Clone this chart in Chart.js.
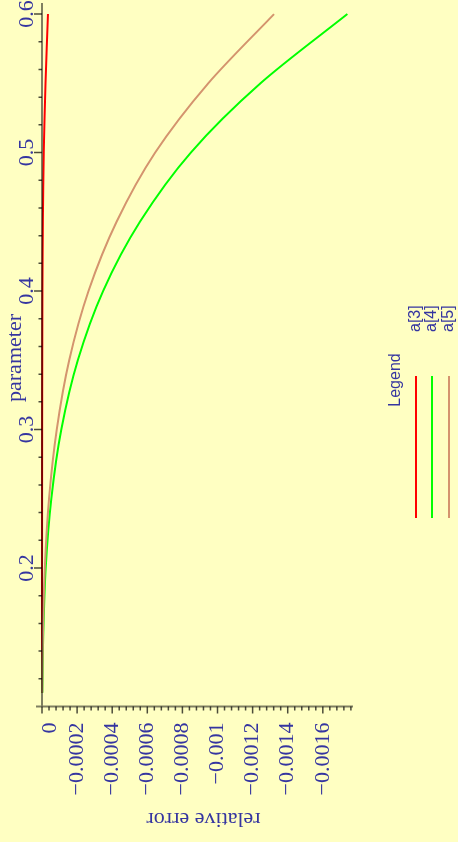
<!DOCTYPE html>
<html>
<head>
<meta charset="utf-8">
<script src="https://cdn.jsdelivr.net/npm/chart.js@4/dist/chart.umd.min.js"></script>
<style>
  html, body { margin: 0; padding: 0; background: #FFFFC2; }
  canvas { display: block; }
</style>
</head>
<body>
<canvas id="errChart" width="458" height="842"></canvas>
<script>
// data
const params = [0.11, 0.15, 0.2, 0.25, 0.3, 0.35, 0.4, 0.45, 0.5, 0.55, 0.6];
const a3 = [0, 0, -0.0000002, -0.0000005, -0.0000008, -0.0000015, -0.0000025, -0.000005, -0.000010, -0.000020, -0.000034];
const a4 = [-0.0000019, -0.0000068, -0.000021, -0.000053, -0.000110, -0.000204, -0.000348, -0.000558, -0.000848, -0.001245, -0.001740];
const a5 = [-0.0000015, -0.0000052, -0.000016, -0.000040, -0.000084, -0.000155, -0.000265, -0.000425, -0.000645, -0.000947, -0.001322];

const seriesNames = ['a[3]', 'a[4]', 'a[5]'];
const seriesColors = ['#FF0000', '#00FF00', '#D4946E'];

const errTicks = [0, -0.0002, -0.0004, -0.0006, -0.0008, -0.001, -0.0012, -0.0014, -0.0016];
const errTickLabels = ['0', '\u22120.0002', '\u22120.0004', '\u22120.0006', '\u22120.0008', '\u22120.001', '\u22120.0012', '\u22120.0014', '\u22120.0016'];
const paramTicks = [0.2, 0.3, 0.4, 0.5, 0.6];
const paramTickLabels = ['0.2', '0.3', '0.4', '0.5', '0.6'];

const textColor = '#3535A0';
const serif = '"Liberation Serif", "DejaVu Serif", serif';
const sans = '"Liberation Sans", Arial, sans-serif';

function toPoints(vals) {
    return params.map(function(p, i) { return { x: vals[i], y: p }; });
}

function rotText(ctx, str, x, y, angle, font, align, baseline) {
    ctx.save();
    ctx.translate(x, y);
    ctx.rotate(angle);
    ctx.font = font;
    ctx.fillStyle = textColor;
    ctx.textAlign = align;
    ctx.textBaseline = baseline;
    ctx.fillText(str, 0, 0);
    ctx.restore();
}

const bgPlugin = {
    id: 'bg',
    beforeDraw: function(chart) {
        const ctx = chart.ctx;
        ctx.save();
        ctx.fillStyle = '#FFFFC2';
        ctx.fillRect(0, 0, chart.width, chart.height);
        ctx.restore();
    }
};

// maple-style axes crossing at (0, 0.1), drawn over the curves
const axesPlugin = {
    id: 'mapleAxes',
    afterDatasetsDraw: function(chart) {
        const ctx = chart.ctx;
        const xs = chart.scales.x, ys = chart.scales.y;
        const area = chart.chartArea;
        const x0 = xs.getPixelForValue(0);
        const y0 = ys.getPixelForValue(0.1);

        ctx.save();
        ctx.strokeStyle = 'rgba(0,0,0,0.5)';
        ctx.lineWidth = 2;
        ctx.beginPath();
        ctx.moveTo(area.left, y0);
        ctx.lineTo(area.right, y0);
        ctx.moveTo(x0, area.top);
        ctx.lineTo(x0, y0);
        ctx.stroke();

        // ticks on relative error axis
        ctx.strokeStyle = 'rgba(0,0,0,0.7)';
        ctx.lineWidth = 1.5;
        ctx.beginPath();
        for (let k = 0; k <= 44; k++) {
            const px = xs.getPixelForValue(-0.00004 * k);
            const len = (k % 5 === 0) ? 7 : 4;
            ctx.moveTo(px, y0);
            ctx.lineTo(px, y0 + len);
        }
        // ticks on parameter axis
        for (let k = 1; k <= 25; k++) {
            const py = ys.getPixelForValue(0.1 + 0.02 * k);
            const len = (k % 5 === 0) ? 8 : 3.5;
            ctx.moveTo(x0, py);
            ctx.lineTo(x0 - len, py);
        }
        ctx.stroke();
        ctx.restore();

        const tickFont = '22px ' + serif;
        errTicks.forEach(function(v, i) {
            let px = xs.getPixelForValue(v);
            if (v === 0) px += 8;
            rotText(ctx, errTickLabels[i], px, y0 + 16, -Math.PI / 2, tickFont, 'right', 'middle');
        });
        paramTicks.forEach(function(v, i) {
            const py = ys.getPixelForValue(v);
            rotText(ctx, paramTickLabels[i], 33, py, -Math.PI / 2, tickFont, 'center', 'alphabetic');
        });

        rotText(ctx, 'parameter', 20.5, 358, -Math.PI / 2, '22px ' + serif, 'center', 'alphabetic');
        rotText(ctx, 'relative error', 203.5, 813, Math.PI, '22px ' + serif, 'center', 'alphabetic');

        // legend
        rotText(ctx, 'Legend', 400, 380, -Math.PI / 2, '16px ' + sans, 'center', 'alphabetic');
        const legX = [416, 432, 449];
        seriesNames.forEach(function(name, i) {
            ctx.save();
            ctx.strokeStyle = seriesColors[i];
            ctx.lineWidth = 2;
            ctx.beginPath();
            ctx.moveTo(legX[i], 376);
            ctx.lineTo(legX[i], 518);
            ctx.stroke();
            ctx.restore();
            rotText(ctx, name, legX[i], 332, -Math.PI / 2, '16px ' + sans, 'left', 'middle');
        });
    }
};

document.addEventListener('DOMContentLoaded', function() {
    const ctx = document.getElementById('errChart').getContext('2d');
    const errChart = new Chart(ctx, {
        type: 'scatter',
        data: {
            datasets: [a5, a4, a3].map(function(vals, j) {
                const i = 2 - j;
                return {
                    label: seriesNames[i],
                    data: toPoints(vals),
                    showLine: true,
                    borderColor: seriesColors[i],
                    borderWidth: 2,
                    pointRadius: 0,
                    tension: 0.3,
                    fill: false
                };
            })
        },
        options: {
            responsive: false,
            animation: false,
            layout: {
                padding: { left: 36, right: 105, top: 3, bottom: 135.5 }
            },
            plugins: {
                legend: { display: false },
                tooltip: { enabled: false }
            },
            scales: {
                x: {
                    type: 'linear',
                    reverse: true,
                    min: -0.001772,
                    max: 0.0000342,
                    display: false
                },
                y: {
                    type: 'linear',
                    min: 0.1,
                    max: 0.608,
                    display: false
                }
            }
        },
        plugins: [bgPlugin, axesPlugin]
    });
});
</script>
</body>
</html>
